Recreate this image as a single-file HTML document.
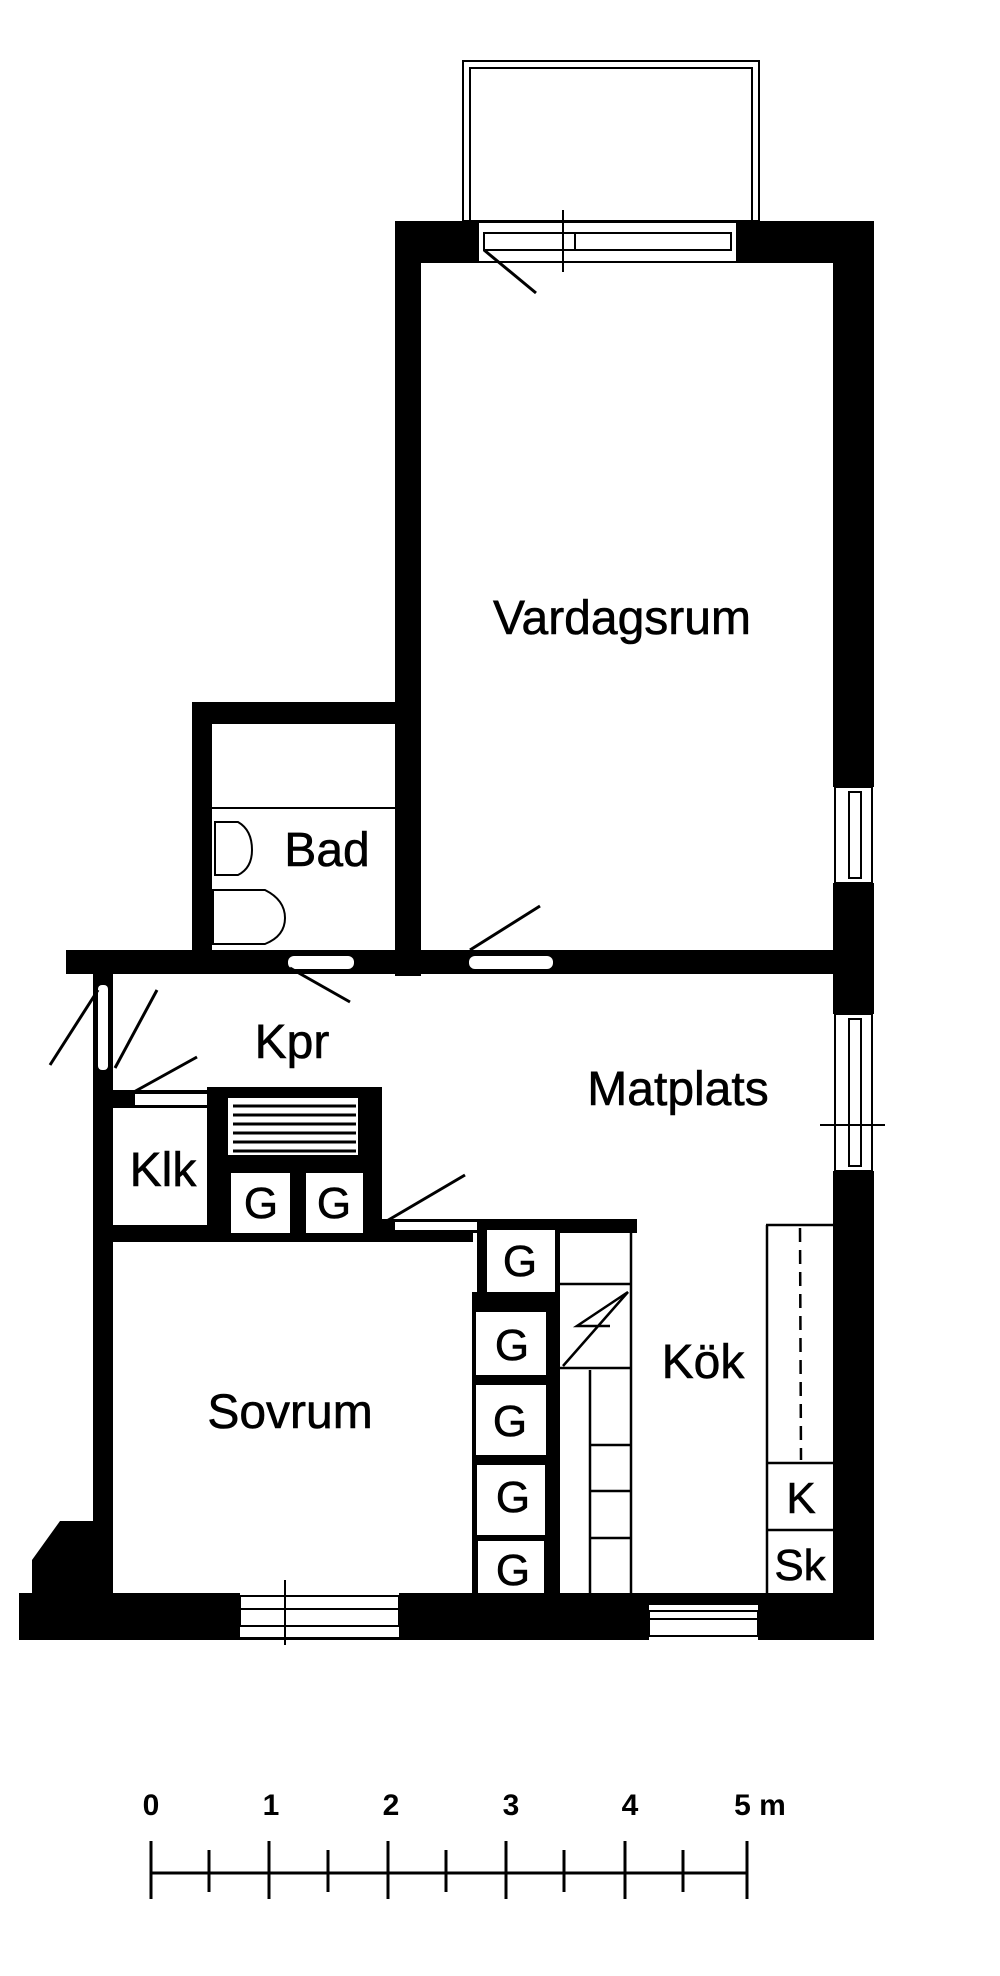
<!DOCTYPE html>
<html><head><meta charset="utf-8"><style>
html,body{margin:0;padding:0;background:#fff;}
svg{display:block}
text{font-family:"Liberation Sans",sans-serif;fill:#000}
</style></head><body>
<svg width="1000" height="1976" viewBox="0 0 1000 1976" xmlns="http://www.w3.org/2000/svg">
<rect width="1000" height="1976" fill="#fff"/>
<rect x="463" y="61" width="296" height="160" fill="none" stroke="#000" stroke-width="2"/>
<rect x="470" y="68" width="282" height="153" fill="none" stroke="#000" stroke-width="2"/>
<rect x="395" y="221" width="83" height="42" fill="#000"/>
<rect x="737" y="221" width="137" height="42" fill="#000"/>
<rect x="395" y="221" width="26" height="755" fill="#000"/>
<rect x="833" y="221" width="41" height="566" fill="#000"/>
<rect x="833" y="883" width="41" height="131" fill="#000"/>
<rect x="833" y="1171" width="41" height="469" fill="#000"/>
<rect x="478" y="222" width="259" height="40" fill="#fff" stroke="#000" stroke-width="2"/>
<rect x="484" y="233" width="247" height="17" fill="none" stroke="#000" stroke-width="2"/>
<line x1="563" y1="210" x2="563" y2="272" stroke="#000" stroke-width="2"/>
<line x1="575" y1="233" x2="575" y2="250" stroke="#000" stroke-width="2"/>
<line x1="484" y1="250" x2="536" y2="293" stroke="#000" stroke-width="3"/>
<rect x="835" y="787" width="37" height="96" fill="#fff" stroke="#000" stroke-width="2"/>
<rect x="849" y="792" width="12" height="86" fill="none" stroke="#000" stroke-width="2"/>
<rect x="835" y="1014" width="37" height="157" fill="#fff" stroke="#000" stroke-width="2"/>
<rect x="849" y="1019" width="12" height="147" fill="none" stroke="#000" stroke-width="2"/>
<line x1="820" y1="1125" x2="885" y2="1125" stroke="#000" stroke-width="2"/>
<rect x="192" y="702" width="203" height="22" fill="#000"/>
<rect x="192" y="702" width="20" height="270" fill="#000"/>
<line x1="212" y1="808" x2="395" y2="808" stroke="#000" stroke-width="2"/>
<path d="M215 822 H238 Q252 830 252 850 Q252 868 238 875 H215 Z" fill="none" stroke="#000" stroke-width="2"/>
<path d="M213 890 H265 Q285 900 285 918 Q285 936 265 944 H213 Z" fill="none" stroke="#000" stroke-width="2"/>
<rect x="66" y="950" width="767" height="24" fill="#000"/>
<rect x="288" y="956" width="66" height="13" rx="6" fill="#fff"/>
<rect x="469" y="956" width="84" height="13" rx="6" fill="#fff"/>
<line x1="290" y1="968" x2="350" y2="1002" stroke="#000" stroke-width="3"/>
<line x1="470" y1="950" x2="540" y2="906" stroke="#000" stroke-width="3"/>
<rect x="93" y="950" width="20" height="690" fill="#000"/>
<rect x="98" y="985" width="10" height="85" rx="4" fill="#fff"/>
<line x1="98" y1="990" x2="50" y2="1065" stroke="#000" stroke-width="3"/>
<line x1="115" y1="1068" x2="157" y2="990" stroke="#000" stroke-width="3"/>
<line x1="132" y1="1093" x2="197" y2="1057" stroke="#000" stroke-width="3"/>
<rect x="113" y="1090" width="97" height="18" fill="#000"/>
<rect x="135" y="1094" width="72" height="11" fill="#fff"/>
<rect x="113" y="1225" width="360" height="17" fill="#000"/>
<rect x="207" y="1087" width="175" height="155" fill="#000"/>
<rect x="228" y="1098" width="130" height="57" fill="#fff"/>
<g stroke="#000" stroke-width="3">
<line x1="233" y1="1106" x2="356" y2="1106"/><line x1="233" y1="1115" x2="356" y2="1115"/>
<line x1="233" y1="1124" x2="356" y2="1124"/><line x1="233" y1="1133" x2="356" y2="1133"/>
<line x1="233" y1="1142" x2="356" y2="1142"/><line x1="233" y1="1151" x2="356" y2="1151"/>
</g>
<rect x="231" y="1173" width="59" height="60" fill="#fff"/>
<rect x="306" y="1173" width="57" height="60" fill="#fff"/>
<rect x="382" y="1219" width="255" height="14" fill="#000"/>
<rect x="395" y="1222" width="90" height="8" fill="#fff"/>
<line x1="385" y1="1222" x2="465" y2="1175" stroke="#000" stroke-width="3"/>
<rect x="477" y="1219" width="83" height="386" fill="#000"/>
<rect x="487" y="1230" width="68" height="62" fill="#fff"/>
<rect x="472" y="1292" width="88" height="313" fill="#000"/>
<rect x="476" y="1312" width="70" height="63" fill="#fff"/>
<rect x="476" y="1385" width="70" height="70" fill="#fff"/>
<rect x="477" y="1465" width="68" height="70" fill="#fff"/>
<rect x="478" y="1541" width="66" height="58" fill="#fff"/>
<g stroke="#000" stroke-width="2.5" fill="none">
<line x1="560" y1="1225" x2="637" y2="1225"/>
<line x1="631" y1="1225" x2="631" y2="1605"/>
<line x1="560" y1="1284" x2="631" y2="1284"/>
<line x1="560" y1="1368" x2="631" y2="1368"/>
<line x1="590" y1="1370" x2="590" y2="1605"/>
<line x1="590" y1="1445" x2="631" y2="1445"/>
<line x1="590" y1="1491" x2="631" y2="1491"/>
<line x1="590" y1="1538" x2="631" y2="1538"/>
<polyline points="563,1366 628,1292 577,1326 610,1326"/>
<line x1="766" y1="1225" x2="833" y2="1225"/>
<line x1="767" y1="1225" x2="767" y2="1605"/>
<line x1="766" y1="1463" x2="833" y2="1463"/>
<line x1="766" y1="1530" x2="833" y2="1530"/>
<line x1="800" y1="1228" x2="801" y2="1460" stroke-dasharray="14,8"/>
</g>
<rect x="19" y="1593" width="855" height="47" fill="#000"/>
<path d="M32 1593 V1560 L60 1521 H95 V1593 Z" fill="#000"/>
<rect x="240" y="1593" width="159" height="44" fill="#fff"/>
<rect x="240" y="1596" width="159" height="30" fill="none" stroke="#000" stroke-width="2"/>
<line x1="240" y1="1609" x2="399" y2="1609" stroke="#000" stroke-width="2"/>
<line x1="285" y1="1580" x2="285" y2="1645" stroke="#000" stroke-width="2"/>
<rect x="649" y="1605" width="109" height="35" fill="#fff"/>
<rect x="649" y="1611" width="109" height="25" fill="none" stroke="#000" stroke-width="2"/>
<line x1="649" y1="1619" x2="758" y2="1619" stroke="#000" stroke-width="2"/>
<g font-size="48" text-anchor="middle" stroke="#000" stroke-width="0.6">
<text x="622" y="634">Vardagsrum</text>
<text x="327" y="866">Bad</text>
<text x="292" y="1058">Kpr</text>
<text x="678" y="1105">Matplats</text>
<text x="163" y="1186">Klk</text>
<text x="290" y="1428">Sovrum</text>
<text x="703" y="1378">Kök</text>
</g>
<g font-size="44" text-anchor="middle" stroke="#000" stroke-width="0.6">
<text x="261" y="1218">G</text>
<text x="334" y="1218">G</text>
<text x="520" y="1276">G</text>
<text x="512" y="1360">G</text>
<text x="510" y="1436">G</text>
<text x="513" y="1512">G</text>
<text x="513" y="1585">G</text>
<text x="801" y="1513">K</text>
<text x="800" y="1580">Sk</text>
</g>
<g font-size="30" text-anchor="middle" font-weight="bold">
<text x="151" y="1815">0</text><text x="271" y="1815">1</text><text x="391" y="1815">2</text>
<text x="511" y="1815">3</text><text x="630" y="1815">4</text><text x="760" y="1815">5 m</text>
</g>
<g stroke="#000" stroke-width="3">
<line x1="151" y1="1873" x2="747" y2="1873"/>
<line x1="151" y1="1841" x2="151" y2="1899"/><line x1="209" y1="1850" x2="209" y2="1892"/>
<line x1="269" y1="1841" x2="269" y2="1899"/><line x1="328" y1="1850" x2="328" y2="1892"/>
<line x1="388" y1="1841" x2="388" y2="1899"/><line x1="446" y1="1850" x2="446" y2="1892"/>
<line x1="506" y1="1841" x2="506" y2="1899"/><line x1="564" y1="1850" x2="564" y2="1892"/>
<line x1="625" y1="1841" x2="625" y2="1899"/><line x1="683" y1="1850" x2="683" y2="1892"/>
<line x1="747" y1="1841" x2="747" y2="1899"/>
</g>
</svg>
</body></html>
